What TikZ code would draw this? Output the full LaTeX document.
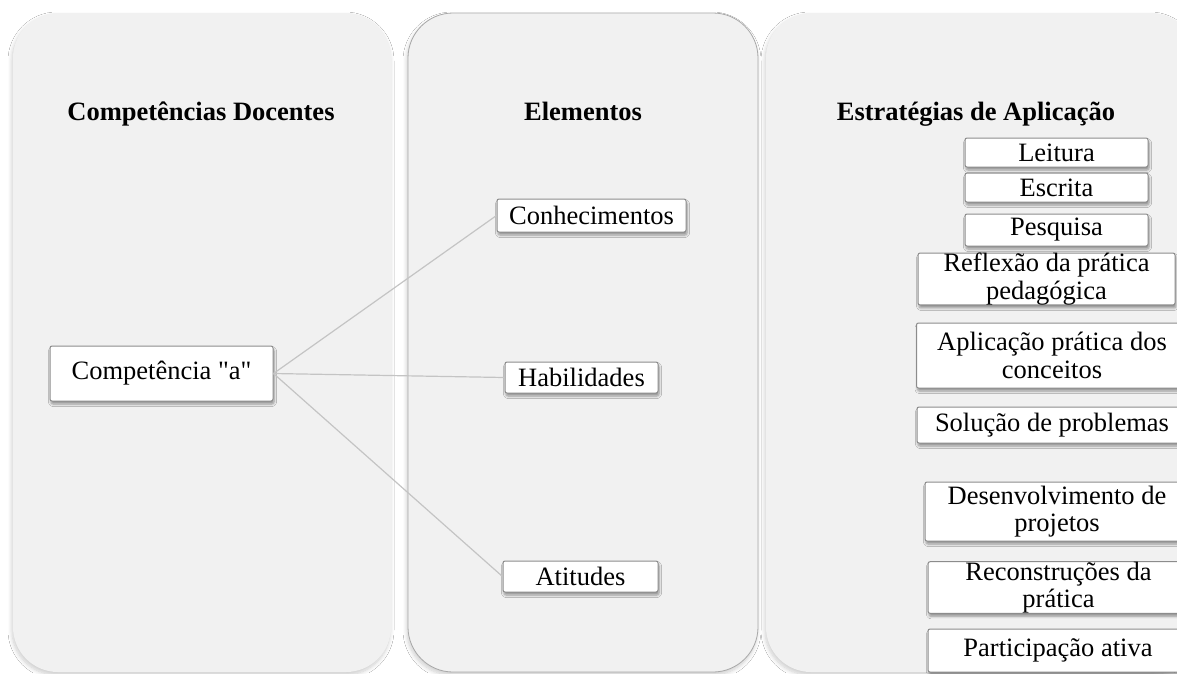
\documentclass[tikz,border=0pt]{standalone}
\usepackage{fontspec}
\setmainfont{Liberation Serif}[Ligatures=TeXOff]
\usetikzlibrary{shadows,shadows.blur}
\definecolor{panelfill}{HTML}{F1F1F1}
\definecolor{panelline}{HTML}{A8A8A8}
\definecolor{boxline}{HTML}{8C8C8C}
\definecolor{linkc}{HTML}{C4C4C4}
\tikzset{
  panel/.style={rectangle, rounded corners=45pt, fill=panelfill, draw=none, inner sep=0pt,
    blur shadow={shadow xshift=-1pt, shadow yshift=-3pt, shadow blur radius=4pt, shadow blur steps=8, shadow opacity=20}},
  itembox/.style={rectangle, rounded corners=2pt, fill=white, draw=boxline, line width=1pt,
    inner sep=0pt, align=center,
    blur shadow={shadow xshift=1pt, shadow yshift=-3pt, shadow blur radius=2.5pt, shadow blur steps=5, shadow opacity=40}},
  title/.style={font=\fontsize{26.5pt}{28pt}\selectfont\bfseries, anchor=base, inner sep=0pt},
  link/.style={draw=linkc, line width=1.2pt},
}
\begin{document}
\begin{tikzpicture}[x=1pt, y=-1pt, font=\fontsize{26.5pt}{27.5pt}\selectfont]
\path[use as bounding box] (0,0) rectangle (1177,673);
\clip (0,0) rectangle (1177,673);
\fill[white] (0,0) rectangle (1177,673);

% panels
\node[panel, minimum width=378pt, minimum height=659pt] (p1) at (202,342.5) {};
\node[panel, draw=panelline, line width=0.8pt, minimum width=350pt, minimum height=659pt] (p2) at (583,342.5) {};
\node[panel, minimum width=430pt, minimum height=659pt] (p3) at (981,342.5) {};

% titles
\node[title] (t1) at (201,120) {Competências Docentes};
\node[title] (t2) at (583,120) {Elementos};
\node[title] (t3) at (976,120) {Estratégias de Aplicação};

% left and middle boxes
\node[itembox, minimum width=223pt, minimum height=55pt] (comp) at (161.5,373.5) {Competência "a"};
\node[itembox, minimum width=189pt, minimum height=33pt] (conh) at (591.5,215.5) {Conhecimentos};
\node[itembox, minimum width=153pt, minimum height=31pt] (hab) at (581.5,377.5) {Habilidades};
\node[itembox, minimum width=155pt, minimum height=31pt] (ati) at (580.5,576.5) {Atitudes};

% connectors
\draw[link] (comp.east) -- (conh.west);
\draw[link] (comp.east) -- (hab.west);
\draw[link] (comp.east) -- (ati.west);

% right column
\node[itembox, minimum width=183pt, minimum height=29pt] (leit) at (1056.5,152.5) {Leitura};
\node[itembox, minimum width=183pt, minimum height=29pt] (escr) at (1056.5,187.5) {Escrita};
\node[itembox, minimum width=183pt, minimum height=32pt] (pesq) at (1056.5,230) {Pesquisa};
\node[itembox, minimum width=257pt, minimum height=50pt] (refl) at (1046.5,279) {Reflexão da prática\\pedagógica};
\node[itembox, minimum width=271pt, minimum height=65pt] (apl) at (1052,355.5) {Aplicação prática dos\\conceitos};
\node[itembox, minimum width=270pt, minimum height=36pt] (sol) at (1052,425) {Solução de problemas};
\node[itembox, minimum width=264pt, minimum height=59pt] (desv) at (1057,511.5) {Desenvolvimento de\\projetos};
\node[itembox, minimum width=261pt, minimum height=45pt] (recon) at (1058.5,587.5) {Reconstruções da\\prática};
\node[itembox, minimum width=260pt, minimum height=43pt] (part) at (1058,650.5) {Participação ativa};
\end{tikzpicture}
\end{document}
